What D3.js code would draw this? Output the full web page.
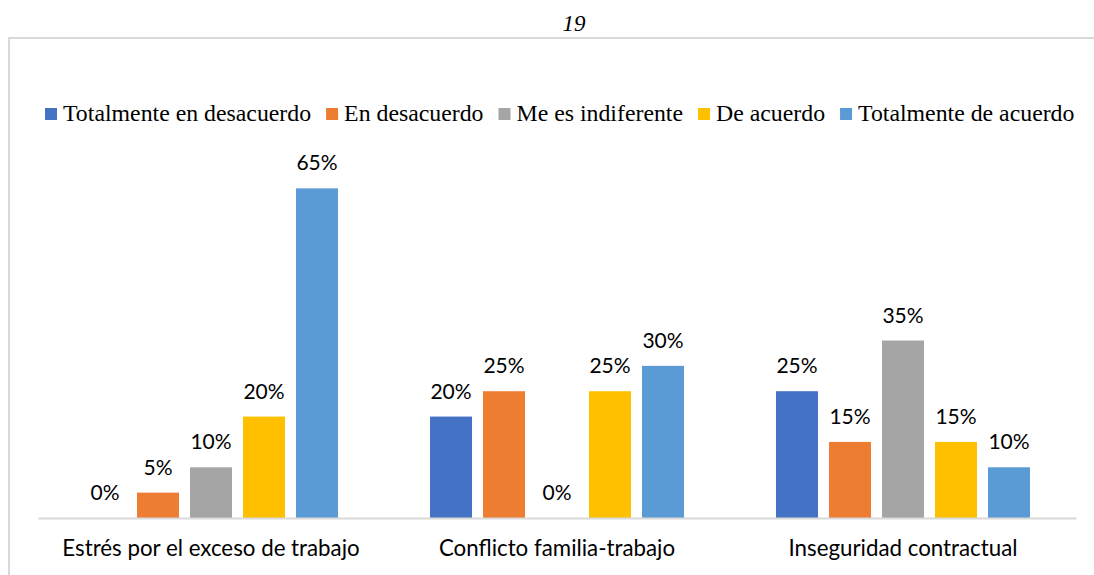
<!DOCTYPE html>
<html>
<head>
<meta charset="utf-8">
<script src="https://cdn.jsdelivr.net/npm/d3@7"></script>
<style>
  body { margin: 0; background: #fff; }
  svg { display: block; }
  .lbl { font-family: Lato, "Open Sans", sans-serif; fill: #000; }
  .leg { font-family: "Liberation Serif", "Times New Roman", serif; fill: #000; }
</style>
</head>
<body>
<svg id="chart" width="1094" height="575"></svg>
<script>
// data
var categories = ["Estrés por el exceso de trabajo", "Conflicto familia-trabajo", "Inseguridad contractual"];
var seriesNames = ["Totalmente en desacuerdo", "En desacuerdo", "Me es indiferente", "De acuerdo", "Totalmente de acuerdo"];
var seriesColors = ["#4472C4", "#ED7D31", "#A5A5A5", "#FFC000", "#5B9BD5"];
var totDesacuerdo = [0, 20, 25];
var enDesacuerdo = [5, 25, 15];
var indiferente = [10, 0, 35];
var deAcuerdo = [20, 25, 15];
var totAcuerdo = [65, 30, 10];
var pageNumber = "19";

var values = [totDesacuerdo, enDesacuerdo, indiferente, deAcuerdo, totAcuerdo];

var svg = d3.select("#chart");
var margin = {top: 163, right: 18, bottom: 57, left: 38};
var width = +svg.attr("width") - margin.left - margin.right;
var height = +svg.attr("height") - margin.top - margin.bottom;

// page number above the chart frame
svg.append("text")
	.attr("x", 574)
	.attr("y", 31)
	.attr("text-anchor", "middle")
	.style("font-family", "'Liberation Serif', serif")
	.style("font-style", "italic")
	.style("font-size", "23px")
	.text(pageNumber);

// chart frame (top + left visible, right runs off the page)
svg.append("path")
	.attr("d", "M9,576 L9,38 L1100,38")
	.attr("fill", "none")
	.attr("stroke", "#d9d9d9")
	.attr("stroke-width", 2);

var x0 = d3.scaleBand()
	.domain(d3.range(categories.length))
	.range([0, width])
	.paddingInner(0.266)
	.paddingOuter(0.133);

var x1 = d3.scaleBand()
	.domain(d3.range(seriesNames.length))
	.range([0, x0.bandwidth()])
	.paddingInner(0.2075);

var y = d3.scaleLinear()
	.domain([0, 70])
	.range([height, 0]);

var g = svg.append("g").attr("transform", "translate(" + margin.left + "," + margin.top + ")");

var groups = g.selectAll(".grp")
	.data(categories)
	.enter().append("g")
	.attr("class", "grp")
	.attr("transform", function(d, i) { return "translate(" + x0(i) + ",0)"; });

groups.each(function(c, ci) {
	var grp = d3.select(this);
	var rows = values.map(function(v, si) { return {s: si, v: v[ci]}; });

	grp.selectAll("rect")
		.data(rows)
		.enter().append("rect")
		.attr("x", function(d) { return x1(d.s); })
		.attr("y", function(d) { return y(d.v); })
		.attr("width", x1.bandwidth())
		.attr("height", function(d) { return height - y(d.v); })
		.attr("fill", function(d) { return seriesColors[d.s]; });

	grp.selectAll(".val")
		.data(rows)
		.enter().append("text")
		.attr("class", "lbl val")
		.attr("x", function(d) { return x1(d.s) + x1.bandwidth() / 2; })
		.attr("y", function(d) { return y(d.v) - 18; })
		.attr("text-anchor", "middle")
		.style("font-size", "21px")
		.text(function(d) { return d.v + "%"; });
});

// baseline + category names
g.append("g")
	.attr("transform", "translate(0," + height + ")")
	.call(d3.axisBottom(x0).tickSize(0).tickPadding(0).tickFormat(function(i) { return categories[i]; }))
	.call(function(a) {
		a.select(".domain").attr("stroke", "#d9d9d9").attr("stroke-width", 2);
		a.selectAll("text")
			.attr("class", "lbl")
			.attr("dy", null)
			.attr("y", 38)
			.style("font-size", "22.3px")
			.style("font-family", "Lato, 'Open Sans', sans-serif")
			.attr("fill", "#000");
	});

// legend, laid out left to right
var legend = svg.append("g").attr("transform", "translate(45,121)");
var lx = 0;
seriesNames.forEach(function(name, i) {
	var item = legend.append("g").attr("transform", "translate(" + lx + ",0)");
	item.append("rect")
		.attr("x", 0)
		.attr("y", -13)
		.attr("width", 12)
		.attr("height", 12)
		.attr("fill", seriesColors[i]);
	var t = item.append("text")
		.attr("class", "leg")
		.attr("x", 18)
		.attr("y", 0)
		.style("font-size", "23.8px")
		.text(name);
	lx += 18 + t.node().getComputedTextLength() + 15;
});
</script>
</body>
</html>
